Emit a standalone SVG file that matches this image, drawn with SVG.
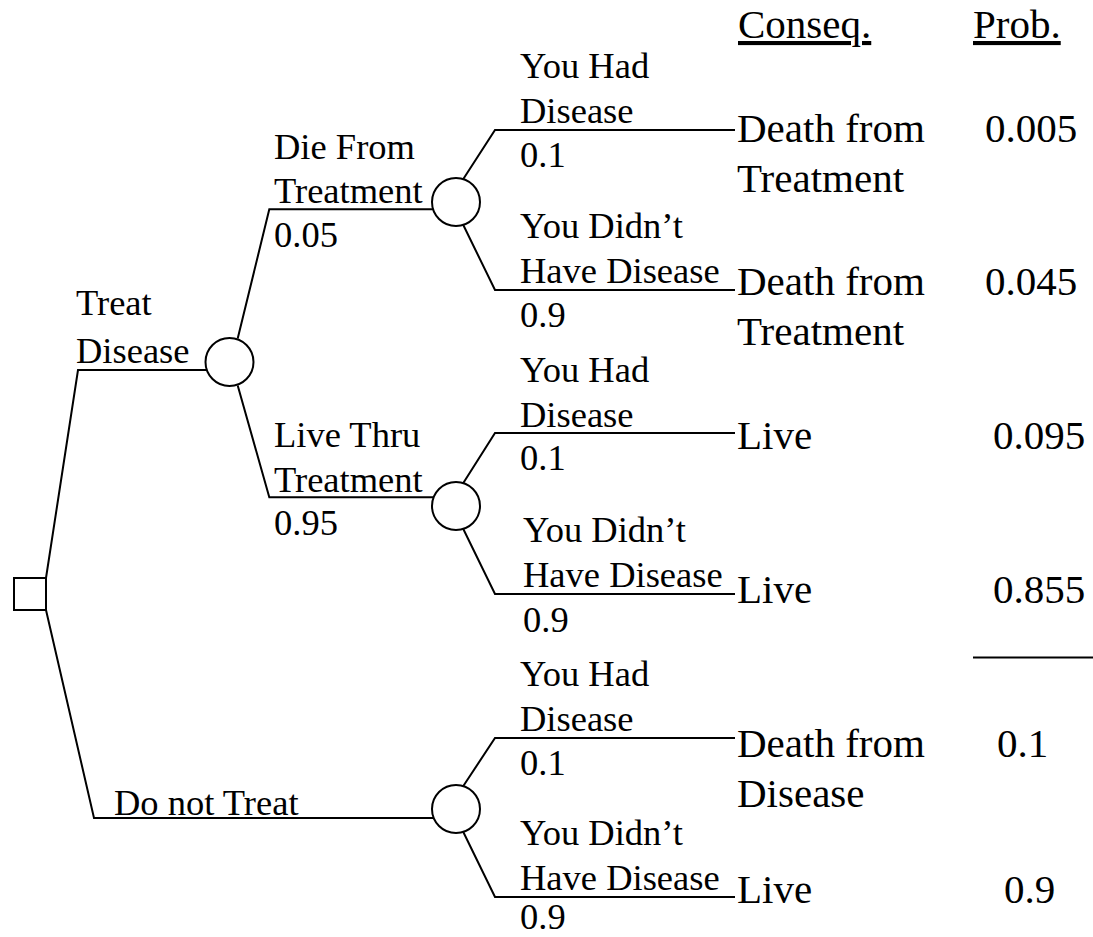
<svg xmlns="http://www.w3.org/2000/svg" width="1093" height="937" viewBox="0 0 1093 937" font-family="'Liberation Serif', 'Times New Roman', Tinos, 'DejaVu Serif', serif">
<style>
.b{font-size:36.5px}
.c{font-size:41px}
.u{text-decoration:underline}
.ln{fill:none;stroke:#000;stroke-width:2}
.nd{fill:#fff;stroke:#000;stroke-width:2}
</style>
<rect width="1093" height="937" fill="#fff"/>
<g id="connectors" class="ln">
<polyline points="46,578 78,370 207,370"/>
<polyline points="46,610 94,818 433,818"/>
<polyline points="237.7,338.5 269.3,209.3 433,209.3"/>
<polyline points="237.7,385.5 269.3,497.3 433,497.3"/>
<polyline points="463.3,179 495,130 735,130"/>
<polyline points="463.3,225 495,290 735,290"/>
<polyline points="463.3,483 495,433 735,433"/>
<polyline points="463.3,529 495,594 735,594"/>
<polyline points="463.3,786 495,738 735,738"/>
<polyline points="463.3,832 495,897 735,897"/>
</g>
<g id="decision">
<rect class="nd" x="14" y="578" width="32" height="32"/>
</g>
<g id="chance-treat">
<circle class="nd" cx="229.5" cy="362" r="24"/>
</g>
<g id="chance-die">
<circle class="nd" cx="456" cy="202" r="24"/>
</g>
<g id="chance-live">
<circle class="nd" cx="456" cy="506" r="24"/>
</g>
<g id="chance-notreat">
<circle class="nd" cx="456" cy="809" r="24"/>
</g>
<g id="branch-labels" class="b">
<text x="76" y="315">Treat</text>
<text x="76" y="363">Disease</text>
<text x="114" y="815">Do not Treat</text>
<text x="274" y="159">Die From</text>
<text x="274" y="203">Treatment</text>
<text x="274" y="247">0.05</text>
<text x="274" y="447">Live Thru</text>
<text x="274" y="492">Treatment</text>
<text x="274" y="535">0.95</text>
<text x="520" y="78">You Had</text>
<text x="520" y="123">Disease</text>
<text x="520" y="167">0.1</text>
<text x="520" y="238">You Didn’t</text>
<text x="520" y="283">Have Disease</text>
<text x="520" y="327">0.9</text>
<text x="520" y="382">You Had</text>
<text x="520" y="427">Disease</text>
<text x="520" y="470">0.1</text>
<text x="523" y="542">You Didn’t</text>
<text x="523" y="587">Have Disease</text>
<text x="523" y="632">0.9</text>
<text x="520" y="686">You Had</text>
<text x="520" y="731">Disease</text>
<text x="520" y="775">0.1</text>
<text x="520" y="845">You Didn’t</text>
<text x="520" y="890">Have Disease</text>
<text x="520" y="929">0.9</text>
</g>
<g id="consequences" class="c">
<text class="u" x="738" y="38">Conseq.</text>
<text class="u" x="973" y="38">Prob.</text>
<text x="737" y="142">Death from</text>
<text x="737" y="192">Treatment</text>
<text x="985" y="142">0.005</text>
<text x="737" y="295">Death from</text>
<text x="737" y="345">Treatment</text>
<text x="985" y="295">0.045</text>
<text x="737" y="449">Live</text>
<text x="993" y="449">0.095</text>
<text x="737" y="603">Live</text>
<text x="993" y="603">0.855</text>
<text x="737" y="757">Death from</text>
<text x="737" y="807">Disease</text>
<text x="997" y="757">0.1</text>
<text x="737" y="903">Live</text>
<text x="1004" y="903">0.9</text>
</g>
<line class="ln" x1="973" y1="657.5" x2="1093" y2="657.5"/>
</svg>
